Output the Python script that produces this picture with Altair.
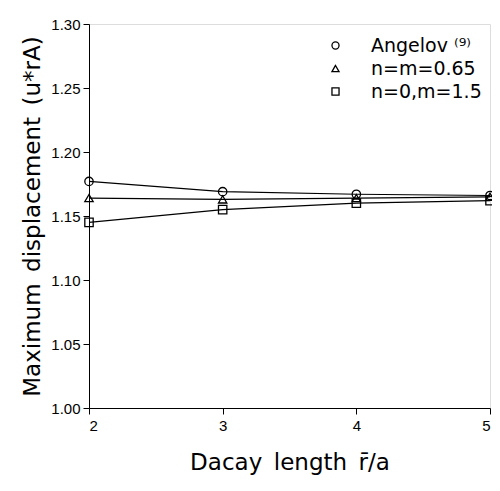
import altair as alt
import pandas as pd

x_vals = [2, 3, 4, 5]
angelov = [1.177, 1.169, 1.167, 1.166]
nm065 = [1.164, 1.163, 1.164, 1.165]
n0m15 = [1.145, 1.155, 1.160, 1.162]
series_names = ["Angelov ⁽⁹⁾", "n=m=0.65", "n=0,m=1.5"]
y_ticks = [1.00, 1.05, 1.10, 1.15, 1.20, 1.25, 1.30]

rows = []
for name, vals in zip(series_names, [angelov, nm065, n0m15]):
    for xv, yv in zip(x_vals, vals):
        rows.append({"x": xv, "y": yv, "series": name})
df = pd.DataFrame(rows)

font = "Liberation Sans"
tfont = "DejaVu Sans"
sp = "\u2002"
xs = alt.X("x:Q", scale=alt.Scale(domain=[2, 5], nice=False),
           axis=alt.Axis(values=x_vals, title=f"Dacay{sp}length{sp}r\u0304/a", grid=False,
                         labelFontSize=15, titleFontSize=23, titleFont=tfont, tickSize=6,
                         labelPadding=4, titlePadding=18, labelColor="black",
                         titleColor="black", titleFontWeight="normal",
                         domainColor="black", tickColor="black"))
ys = alt.Y("y:Q", scale=alt.Scale(domain=[1.0, 1.3], nice=False, zero=False),
           axis=alt.Axis(values=y_ticks, format=".2f",
                         title=f"Maximum{sp}displacement{sp}(u*rA)",
                         grid=False, labelFontSize=15, titleFontSize=23, titleFont=tfont,
                         tickSize=6, labelPadding=3, titlePadding=6, labelColor="black",
                         titleColor="black", titleFontWeight="normal",
                         domainColor="black", tickColor="black"))

lines = alt.Chart(df).mark_line(color="black", strokeWidth=1.2).encode(
    x=xs, y=ys, detail="series:N")
points = alt.Chart(df).mark_point(color="black", filled=False, size=70, strokeWidth=1.3,
                                  opacity=1).encode(
    x=xs, y=ys,
    shape=alt.Shape("series:N", sort=series_names,
                    scale=alt.Scale(domain=series_names, range=["circle", "triangle-up", "square"]),
                    legend=alt.Legend(title=None, orient="none", legendX=237, legendY=12,
                                      padding=0, labelFont=tfont,
                                      labelFontSize=19, symbolSize=50, symbolStrokeColor="black",
                                      symbolStrokeWidth=1.3, symbolFillColor="white",
                                      labelColor="black", rowPadding=3, labelOffset=26)))

chart = (lines + points).properties(
    width=401, height=384,
    autosize=alt.AutoSizeParams(type="none"),
    padding={"left": 81, "top": 16, "right": 2, "bottom": 75},
).configure_view(stroke="black", strokeWidth=1.2).configure(font=font)

chart.save("out.html", embed_options={"renderer": "svg", "actions": False})
